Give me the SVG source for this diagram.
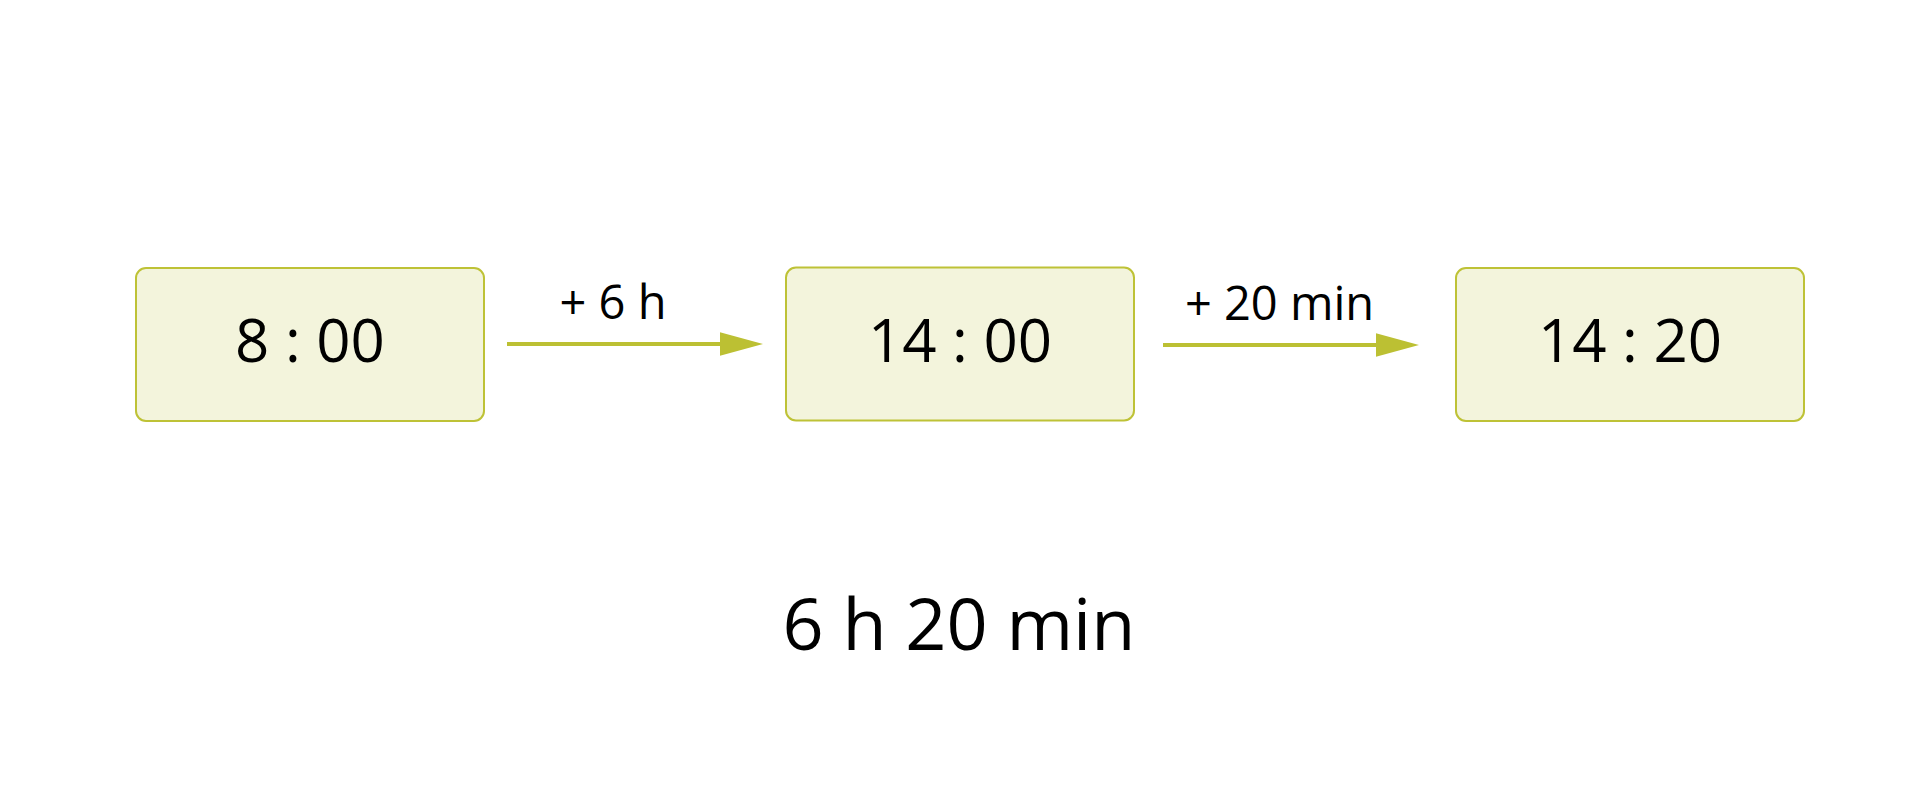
<svg xmlns="http://www.w3.org/2000/svg" width="1920" height="800" viewBox="0 0 1920 800">
<style>
.box{fill:#f3f4dc;stroke:#bec236;stroke-width:2}
.t{font-family:"Open Sans","Liberation Sans",sans-serif;fill:#000}
.node{font-size:60px;text-anchor:middle}
.lbl{font-size:47px;text-anchor:middle}
.big{font-size:72px;text-anchor:middle}
.conn{stroke:#bcc033;stroke-width:4;fill:none}
</style>
<defs>
<marker id="ah" markerUnits="userSpaceOnUse" markerWidth="44" markerHeight="24" refX="0" refY="11.7" orient="auto">
<path d="M0,0 L43,11.7 L0,23.4 z" fill="#bcc033"/>
</marker>
</defs>
<rect width="1920" height="800" fill="#fff"/>
<g id="connectors">
<line class="conn" x1="507" y1="344" x2="720" y2="344" marker-end="url(#ah)"/>
<line class="conn" x1="1163" y1="345" x2="1376" y2="345" marker-end="url(#ah)"/>
<text class="t lbl" x="613" y="319">+ 6 h</text>
<text class="t lbl" x="1279.5" y="320">+ 20 min</text>
</g>
<g id="node1">
<rect class="box" x="136" y="268" width="348" height="153" rx="10"/>
<text class="t node" x="310" y="362">8 : 00</text>
</g>
<g id="node2">
<rect class="box" x="786" y="267.5" width="348" height="153" rx="10"/>
<text class="t node" x="960" y="362">14 : 00</text>
</g>
<g id="node3">
<rect class="box" x="1456" y="268" width="348" height="153" rx="10"/>
<text class="t node" x="1630" y="362">14 : 20</text>
</g>
<g id="total">
<text class="t big" x="959" y="650">6 h 20 min</text>
</g>
</svg>
